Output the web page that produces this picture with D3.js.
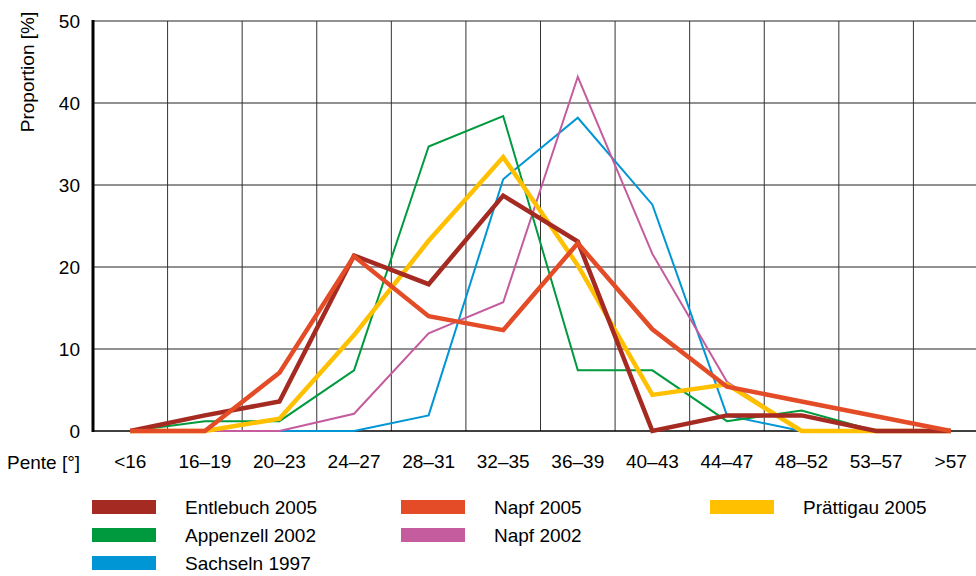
<!DOCTYPE html>
<html><head><meta charset="utf-8">
<script src="https://cdn.jsdelivr.net/npm/d3@7"></script>
<style>body{margin:0;background:#fff}svg{display:block;font-family:"Liberation Sans",Arial,sans-serif}</style>
</head><body><svg id="c" width="976" height="576"></svg>
<script>
const categories = ["<16","16–19","20–23","24–27","28–31","32–35","36–39","40–43","44–47","48–52","53–57",">57"];
const yTicks = [0,10,20,30,40,50];
const seriesNames = ["Entlebuch 2005","Napf 2005","Prättigau 2005","Appenzell 2002","Napf 2002","Sachseln 1997"];
const entlebuch2005 = [0,1.9,3.6,21.4,17.9,28.7,23.1,0,1.9,1.9,0,0];
const napf2005      = [0,0,7.1,21.3,14.0,12.3,22.9,12.4,5.4,3.6,1.8,0];
const praettigau2005= [0,0,1.5,11.7,23.2,33.4,20.2,4.4,5.7,0,0,0];
const appenzell2002 = [0,1.2,1.2,7.4,34.7,38.4,7.4,7.4,1.2,2.5,0,0];
const napf2002      = [0,0,0,2.1,11.9,15.7,43.2,21.6,6.0,0,0,0];
const sachseln1997  = [0,0,0,0,1.9,30.7,38.2,27.6,1.9,0,0,0];

const colors = {"Entlebuch 2005":"#a52a21","Napf 2005":"#e34c26","Prättigau 2005":"#ffc000","Appenzell 2002":"#009a3e","Napf 2002":"#c45c9e","Sachseln 1997":"#0096d6"};
const widths = {"Entlebuch 2005":4.5,"Napf 2005":4.5,"Prättigau 2005":4.5,"Appenzell 2002":2,"Napf 2002":2,"Sachseln 1997":2};
const valuesBy = {"Entlebuch 2005":entlebuch2005,"Napf 2005":napf2005,"Prättigau 2005":praettigau2005,"Appenzell 2002":appenzell2002,"Napf 2002":napf2002,"Sachseln 1997":sachseln1997};
const drawOrder = ["Sachseln 1997","Napf 2002","Appenzell 2002","Prättigau 2005","Entlebuch 2005","Napf 2005"];

const svg = d3.select("#c");
const L = 93, R = 988, T = 21, B = 431;
const x = d3.scaleBand().domain(categories).range([L, R]);
const y = d3.scaleLinear().domain([0,50]).range([B, T]);
const fs = 19;

// grid
const g = svg.append("g");
g.selectAll("line.h").data(yTicks.filter(d=>d>0)).join("line")
  .attr("x1", L).attr("x2", 976).attr("y1", d=>y(d)).attr("y2", d=>y(d))
  .attr("stroke", "#222").attr("stroke-width", 1);
g.selectAll("line.v").data(categories.slice(1)).join("line")
  .attr("x1", d=>x(d)).attr("x2", d=>x(d)).attr("y1", T).attr("y2", B)
  .attr("stroke", "#333").attr("stroke-width", 1);

// axes
const yAxis = d3.axisLeft(y).tickValues(yTicks).tickSize(0).tickPadding(13);
const ya = svg.append("g").attr("transform", `translate(${L},0)`).call(yAxis);
ya.select(".domain").remove();
ya.selectAll("text").attr("font-size", fs).attr("font-family","Liberation Sans, Arial, sans-serif").attr("fill","#000");

const xAxis = d3.axisBottom(x).tickSize(0).tickPadding(24);
const xa = svg.append("g").attr("transform", `translate(0,${B})`).call(xAxis);
xa.select(".domain").remove();
xa.selectAll("text").attr("font-size", fs).attr("font-family","Liberation Sans, Arial, sans-serif").attr("fill","#000");

svg.append("line").attr("x1", L).attr("x2", 976).attr("y1", B).attr("y2", B).attr("stroke","#000").attr("stroke-width",1.5);
svg.append("line").attr("x1", L).attr("x2", L).attr("y1", T-1).attr("y2", B+1).attr("stroke","#000").attr("stroke-width",3);

svg.append("text").attr("x", 7).attr("y", 469).attr("font-size", fs).text("Pente [°]");
svg.append("text").attr("transform", "translate(34,72) rotate(-90)").attr("text-anchor","middle")
  .attr("font-size", fs).text("Proportion [%]");

// lines
const line = d3.line().x((d,i)=>x(categories[i]) + x.bandwidth()/2).y(d=>y(d));
svg.append("g").selectAll("path").data(drawOrder).join("path")
  .attr("d", n => line(valuesBy[n]))
  .attr("fill","none").attr("stroke", n=>colors[n]).attr("stroke-width", n=>widths[n])
  .attr("stroke-linejoin","miter").attr("stroke-linecap","butt");

// legend
const legendPos = {
  "Entlebuch 2005":[92,500], "Appenzell 2002":[92,528], "Sachseln 1997":[92,556],
  "Napf 2005":[401,500], "Napf 2002":[401,528], "Prättigau 2005":[710,500]
};
const lg = svg.append("g").selectAll("g").data(seriesNames).join("g")
  .attr("transform", n=>`translate(${legendPos[n][0]},${legendPos[n][1]})`);
lg.append("rect").attr("width",64).attr("height",14).attr("fill", n=>colors[n]);
lg.append("text").attr("x", 93).attr("y", 14).attr("font-size", fs).text(n=>n);
</script></body></html>
